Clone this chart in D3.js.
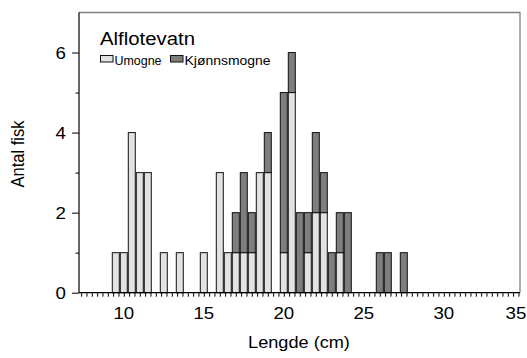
<!DOCTYPE html>
<html>
<head>
<meta charset="utf-8">
<script src="https://cdn.jsdelivr.net/npm/d3@7"></script>
<style>
  body { margin: 0; background: #fff; }
  text { font-family: "Liberation Sans", Arial, Helvetica, sans-serif; fill: #000; }
</style>
</head>
<body>
<script>
// length bins (cm, bin centre, 0.5 cm wide)
const lengths = [9.5, 10, 10.5, 11, 11.5, 12.5, 13.5, 15, 16, 16.5, 17, 17.5, 18, 18.5, 19,
                 20, 20.5, 21, 21.5, 22, 22.5, 23, 23.5, 24, 26, 26.5, 27.5];
const umogne = [1, 1, 4, 3, 3, 1, 1, 1, 3, 1, 1, 1, 1, 3, 3,
                1, 5, 0, 1, 2, 2, 0, 1, 0, 0, 0, 0];
const kjonnsmogne = [0, 0, 0, 0, 0, 0, 0, 0, 0, 0, 1, 2, 1, 0, 1,
                     4, 1, 2, 1, 2, 1, 1, 1, 2, 1, 1, 1];
const seriesNames = ["Umogne", "Kjønnsmogne"];
const xLabels = [10, 15, 20, 25, 30, 35];
const yLabels = [0, 2, 4, 6];
const title = "Alflotevatn";

const width = 527, height = 358;
const colors = ["#e2e2e2", "#7e7e7e"];
const sx = 1.1; // text in the source is slightly wide

const svg = d3.select("body").append("svg")
    .attr("width", width)
    .attr("height", height);

const x = d3.scaleLinear().domain([7.2, 34.8]).range([79, 520.6]);
const y = d3.scaleLinear().domain([0, 7]).range([292.7, 12.5]);

const rows = lengths.map((l, i) => ({len: l, Umogne: umogne[i], "Kjønnsmogne": kjonnsmogne[i]}));
const stacked = d3.stack().keys(seriesNames)(rows);

// frame (grey top + right)
svg.append("path")
    .attr("d", "M" + x.range()[0] + "," + y(7) + "H520V" + y(0))
    .attr("fill", "none")
    .attr("stroke", "#808080")
    .attr("stroke-width", 1.3);

// bars
const bw = x(0.5) - x(0) - 1;
svg.append("g").selectAll("g")
  .data(stacked)
  .join("g")
    .attr("fill", (d, i) => colors[i])
  .selectAll("rect")
  .data(d => d.filter(s => s[1] > s[0]))
  .join("rect")
    .attr("x", d => x(d.data.len - 0.25) + 0.5)
    .attr("y", d => y(d[1]))
    .attr("width", bw)
    .attr("height", d => y(d[0]) - y(d[1]))
    .attr("stroke", "#111")
    .attr("stroke-width", 1);

// x axis: minor ticks every 1/3 cm, labels every 5
const minor = d3.range(22, 105).map(k => k / 3);
const xAxis = d3.axisBottom(x).tickValues(minor).tickSize(4).tickFormat("").tickSizeOuter(0);
const gx = svg.append("g").attr("transform", "translate(0," + y(0) + ")").call(xAxis);
gx.select(".domain").attr("d", "M79,0H520").attr("stroke", "#000").attr("stroke-width", 1.2);
gx.selectAll(".tick line").attr("stroke", "#000");

svg.append("g").selectAll("text")
  .data(xLabels)
  .join("text")
    .attr("transform", d => "translate(" + Math.min(x(d), 516) + ",319) scale(" + sx + ",1)")
    .attr("text-anchor", "middle")
    .attr("font-size", 17)
    .text(d => d);

// y axis
const yAxis = d3.axisLeft(y).tickValues(d3.range(0, 7)).tickFormat("").tickSizeOuter(0)
    .tickSize(7);
const gy = svg.append("g").attr("transform", "translate(79,0)").call(yAxis);
gy.select(".domain").attr("d", "M0," + y(7) + "V" + y(0)).attr("stroke", "#000").attr("stroke-width", 1.2);
gy.selectAll(".tick line")
    .attr("stroke", "#000")
    .attr("x2", d => yLabels.includes(d) ? -7 : -3.5);

svg.append("g").selectAll("text")
  .data(yLabels)
  .join("text")
    .attr("transform", d => "translate(66," + (y(d) + 6) + ") scale(" + sx + ",1)")
    .attr("text-anchor", "end")
    .attr("font-size", 17)
    .text(d => d);

// axis titles
svg.append("text")
    .attr("transform", "translate(299,348) scale(" + sx + ",1)")
    .attr("text-anchor", "middle")
    .attr("font-size", 16.5)
    .text("Lengde (cm)");

svg.append("text")
    .attr("transform", "translate(24,154) rotate(-90) scale(1," + sx + ")")
    .attr("text-anchor", "middle")
    .attr("font-size", 16.5)
    .text("Antal fisk");

// title + legend
svg.append("text")
    .attr("transform", "translate(100,45) scale(" + sx + ",1)")
    .attr("font-size", 18.5)
    .text(title);

const legX = [100.5, 170.5];
const leg = svg.append("g").selectAll("g")
  .data(seriesNames)
  .join("g")
    .attr("transform", (d, i) => "translate(" + legX[i] + ",55.5)");
leg.append("rect")
    .attr("width", 12.5)
    .attr("height", 6.5)
    .attr("fill", (d, i) => colors[i])
    .attr("stroke", "#111")
    .attr("stroke-width", 1);
leg.append("text")
    .attr("x", 14)
    .attr("y", 9)
    .attr("font-size", 12.5)
    .attr("textLength", (d, i) => i ? 86 : 47)
    .attr("lengthAdjust", "spacingAndGlyphs")
    .text(d => d);
</script>
</body>
</html>
